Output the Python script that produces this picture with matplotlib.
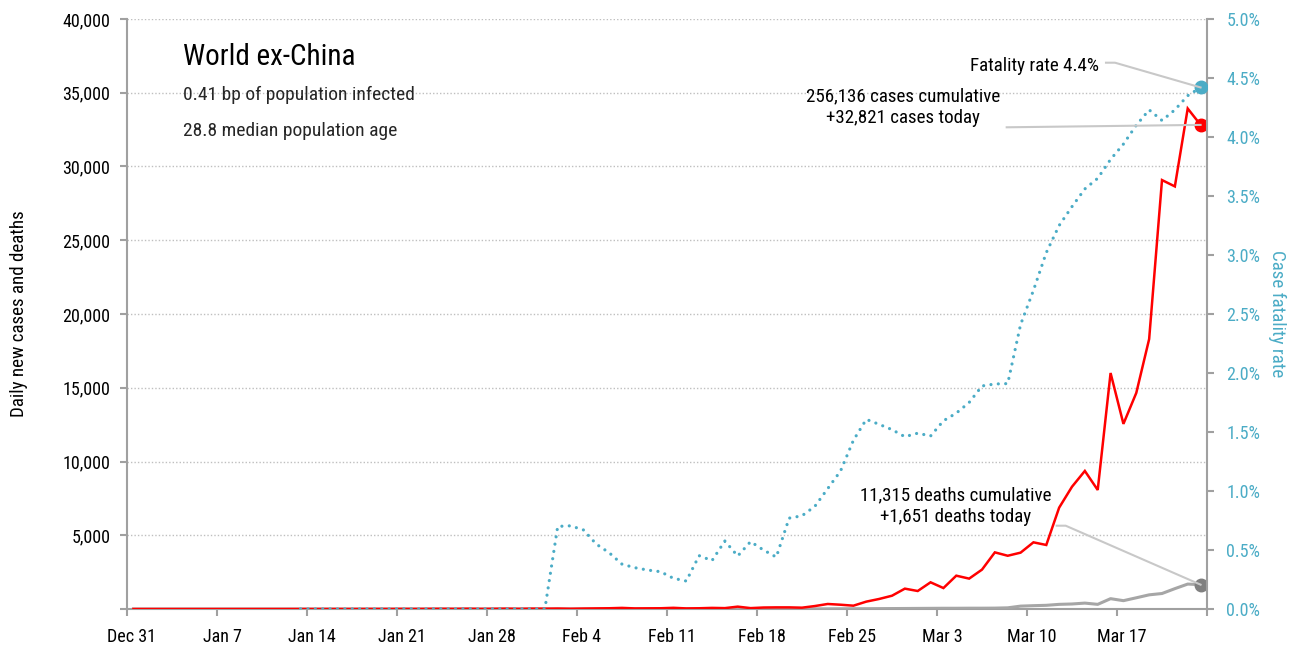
import numpy as np
import pandas as pd
import matplotlib
matplotlib.use("Agg")
import matplotlib.pyplot as plt
import matplotlib.font_manager as fm
from matplotlib.transforms import ScaledTranslation

# ---------------- data ----------------
start_date = "2019-12-31"
n_days = 84

daily_cases = [
    0, 0, 0, 0, 0, 0, 0, 0, 0, 0, 0, 0, 0, 1, 0, 1, 1, 0, 2, 4, 3, 7, 4, 9, 14, 8, 18, 6, 12, 22, 10, 24,
    20, 30, 15, 30, 40, 50, 75, 40, 45, 50, 80, 40, 50, 75, 60, 160, 60, 100, 110, 110, 90,
    200, 340, 290, 225, 500, 680, 900, 1380, 1220, 1810, 1420, 2260, 2060, 2670, 3840, 3610, 3820,
    4520, 4340, 6870, 8290, 9360, 8070, 16000, 12550, 14650, 18300, 29080, 28650, 33930, 32821,
]

daily_deaths = [
    0, 0, 0, 0, 0, 0, 0, 0, 0, 0, 0, 0, 0, 0, 0, 0, 0, 0, 0, 0, 0, 0, 0, 0, 0, 0, 0, 0, 0, 0, 0, 0,
    0, 1, 0, 0, 0, 0, 0, 0, 0, 0, 0, 0, 1, 0, 1, 2, 3, 2, 4, 6, 8,
    10, 12, 15, 18, 20, 25, 30, 35, 40, 45, 50, 50, 55, 55, 60, 80, 195,
    225, 250, 315, 340, 400, 315, 700, 565, 760, 960, 1050, 1380, 1690, 1651,
]

nan = np.nan
fatality_rate = [nan] * 13 + [0.0] * 20 + [
    0.70, 0.705, 0.67, 0.55, 0.477, 0.38, 0.35, 0.33, 0.316, 0.26, 0.237,
    0.452, 0.41, 0.576, 0.449, 0.571, 0.50, 0.44, 0.77, 0.79, 0.87, 1.02, 1.17,
    1.43, 1.607, 1.565, 1.52, 1.46, 1.49, 1.466, 1.595, 1.66, 1.75, 1.89, 1.907,
    1.91, 2.41, 2.70, 3.02, 3.25, 3.41, 3.56, 3.65, 3.81, 3.94, 4.10, 4.23, 4.14,
    4.23, 4.35, 4.42,
]

tick_dates = pd.date_range("2019-12-31", "2020-03-24", freq="7D")
tick_labels = ["Dec 31", "Jan 7", "Jan 14", "Jan 21", "Jan 28", "Feb 4", "Feb 11",
               "Feb 18", "Feb 25", "Mar 3", "Mar 10", "Mar 17", ""]

left_ticks = [0, 5000, 10000, 15000, 20000, 25000, 30000, 35000, 40000]
left_tick_labels = ["", "5,000", "10,000", "15,000", "20,000", "25,000", "30,000", "35,000", "40,000"]
right_ticks = [0.0, 0.5, 1.0, 1.5, 2.0, 2.5, 3.0, 3.5, 4.0, 4.5, 5.0]

title = "World ex-China"
subtitle_1 = "0.41 bp of population infected"
subtitle_2 = "28.8 median population age"
cases_note = "256,136 cases cumulative\n+32,821 cases today"
deaths_note = "11,315 deaths cumulative\n+1,651 deaths today"
rate_note = "Fatality rate 4.4%"

# ---------------- fonts ----------------
names = {f.name for f in fm.fontManager.ttflist}
font_family = "DejaVu Sans"
for cand in ["Roboto Condensed", "Archivo Narrow", "Barlow Condensed", "Liberation Sans Narrow"]:
    if cand in names:
        font_family = cand
        break
plt.rcParams["font.family"] = [font_family, "DejaVu Sans"]

# ---------------- figure ----------------
W, H = 1293, 649
fig = plt.figure(figsize=(W / 100, H / 100), dpi=100)
ax = fig.add_axes([127 / W, 1 - 609 / H, (1207 - 127) / W, (609 - 19) / H])
ax2 = ax.twinx()

dates = pd.date_range(start_date, periods=n_days, freq="D") + pd.Timedelta(hours=12)

red = "#FF0000"
gray = "#A6A6A6"
blue = "#4BACC6"
spine_col = "#A0A0A0"

ax.plot(dates, daily_deaths, color=gray, lw=2.2, solid_joinstyle="round", zorder=3)
ax.plot(dates, daily_cases, color=red, lw=1.8, solid_joinstyle="miter", zorder=4)
ax.plot(dates[-1:], daily_deaths[-1:], "o", color="#808080", ms=9, zorder=5)
ax.plot(dates[-1:], daily_cases[-1:], "o", color=red, ms=9, zorder=5)

ax2.plot(dates, fatality_rate, color=blue, lw=2.3, linestyle=(0, (0.01, 2.3)),
         dash_capstyle="round", zorder=3)
ax2.plot(dates[-1:], fatality_rate[-1:], "o", color=blue, ms=9, zorder=5)

ax.set_xlim(pd.Timestamp("2019-12-31"), pd.Timestamp("2020-03-24"))
ax.set_ylim(0, 40000)
ax2.set_ylim(0, 5.0)

ax.set_xticks(tick_dates)
ax.set_xticklabels(tick_labels, fontsize=13)
ax.set_yticks(left_ticks)
ax.set_yticklabels(left_tick_labels, fontsize=13)
ax2.set_yticks(right_ticks)
ax2.set_yticklabels([f"{v:.1f}%" for v in right_ticks], fontsize=13, color=blue)

ax.grid(axis="y", color="#BFBFBF", linestyle=(0, (1, 1.5)), linewidth=1.0)
ax.set_axisbelow(True)

for a in (ax, ax2):
    a.spines["top"].set_visible(False)
    for s in ("left", "right", "bottom"):
        a.spines[s].set_color(spine_col)
        a.spines[s].set_linewidth(1.5)
ax.spines["right"].set_visible(False)
ax2.spines["left"].set_visible(False)
ax2.spines["bottom"].set_visible(False)

ax.tick_params(axis="x", length=5, width=1.5, color=spine_col, pad=9, labelcolor="black")
ax.tick_params(axis="y", length=5, width=1.5, color=spine_col, pad=7, labelcolor="black")
ax2.tick_params(axis="y", length=5, width=1.5, color=spine_col, pad=9, labelcolor=blue)

off = ScaledTranslation(5 / 100, 0, fig.dpi_scale_trans)
for lbl in ax.get_xticklabels():
    lbl.set_transform(lbl.get_transform() + off)

ax.set_ylabel("Daily new cases and deaths", fontsize=13.7)
ax.yaxis.set_label_coords(-0.092, 0.5)
ax2.set_ylabel("Case fatality rate", fontsize=13.7, color=blue, rotation=270, va="center")
ax2.yaxis.set_label_coords(1.065, 0.5)

def fx(px):
    return px / W

def fy(py):
    return 1 - py / H

fig.text(fx(183), fy(65), title, fontsize=21, va="baseline", ha="left")
fig.text(fx(183), fy(100), subtitle_1, fontsize=14, va="baseline", ha="left", color="#262626")
fig.text(fx(183), fy(136), subtitle_2, fontsize=14, va="baseline", ha="left", color="#262626")

fig.text(fx(1099), fy(71), rate_note, fontsize=13.7, ha="right", va="baseline")
fig.text(fx(903), fy(122.7), cases_note, fontsize=13.7, ha="center", va="baseline",
         linespacing=1.25, multialignment="center")
fig.text(fx(956), fy(522), deaths_note, fontsize=13.7, ha="center", va="baseline",
         linespacing=1.25, multialignment="center")

fig.canvas.draw()
to_fig = fig.transFigure.inverted()

def pt_fig(axis, x, y):
    xd = matplotlib.dates.date2num(x)
    return to_fig.transform(axis.transData.transform((xd, y)))

leader_col = "#C8C8C8"
p_rate = pt_fig(ax2, dates[-1], fatality_rate[-1])
fig.add_artist(plt.Line2D([fx(1106), fx(1115), p_rate[0]], [fy(62.7), fy(62.7), p_rate[1]],
                          color=leader_col, lw=1.5, zorder=2))
p_case = pt_fig(ax, dates[-1], daily_cases[-1])
fig.add_artist(plt.Line2D([fx(1006.7), p_case[0]], [fy(127.3), p_case[1]],
                          color=leader_col, lw=1.5, zorder=2))
p_death = pt_fig(ax, dates[-1], daily_deaths[-1])
fig.add_artist(plt.Line2D([fx(1056.7), fx(1065.7), p_death[0]], [fy(525.7), fy(525.7), p_death[1]],
                          color=leader_col, lw=1.5, zorder=2))

fig.savefig("out.png", dpi=100)
